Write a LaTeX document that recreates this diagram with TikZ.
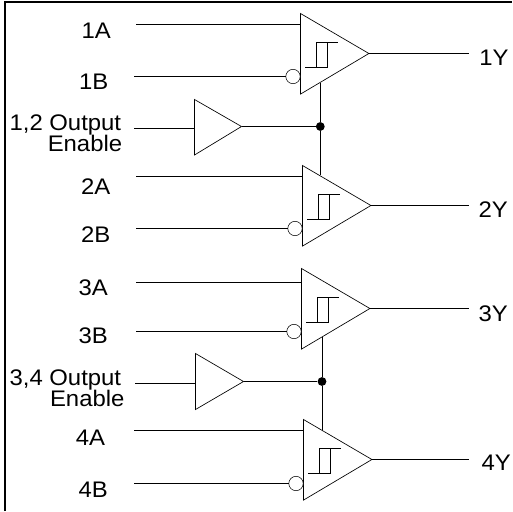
\documentclass[tikz,border=0pt]{standalone}
\usepackage{fontspec}
\setmainfont[FakeStretch=1.06]{Liberation Sans}
\tikzset{
  x=0.75pt,y=-0.75pt,
  wire/.style={line width=0.6pt,black},
  thin wire/.style={line width=0.5pt,black},
  gate/.style={line width=0.5pt,black,fill=white,line join=miter},
  bubble/.style={circle,draw=black,line width=0.4pt,fill=white,minimum size=10.8pt,inner sep=0pt},
  junction/.style={circle,fill=black,minimum size=6.6pt,inner sep=0pt},
  lbl/.style={font=\fontsize{16.9}{14}\selectfont,inner sep=0pt,anchor=base},
  lblr/.style={font=\fontsize{16.9}{14}\selectfont,inner sep=0pt,anchor=base east},
  frame/.style={line width=1.7pt,black}
}
\begin{document}
\begin{tikzpicture}
\useasboundingbox (0,0) rectangle (513,511);
\draw[frame] (4.9,511) -- (4.9,1.7) -- (512,1.7);

% Receiver: x left, y top, name, bubble y
\newcommand{\rcv}[4]{%
  \coordinate (#3tl) at (#1,#2);
  \coordinate (#3bl) at (#1,#2+80.6);
  \coordinate (#3tip) at (#1+68.4,#2+40);
  \draw[gate] (#3tl) -- (#3tip) -- (#3bl) -- cycle;
  \draw[thin wire] (#1+4.7,#2+54) -- (#1+26.4,#2+54) -- (#1+26.4,#2+29);
  \draw[thin wire] (#1+16,#2+54) -- (#1+16,#2+29) -- (#1+37.7,#2+29);
  \node[bubble] (#3bub) at (#1-7.5,#4) {};
}

% Group 1/2
\rcv{300.5}{13.5}{a}{76.5}
\rcv{302.5}{165.5}{b}{228.5}
\coordinate (ia) at (136,24.5);  \coordinate (ea) at (300.5,24.5);
\coordinate (ib) at (134,76.5);
\draw[wire] (ia) -- (ea);
\draw[wire] (ib) -- (abub);
\coordinate (ic) at (136,176.5); \coordinate (ec) at (302.5,176.5);
\coordinate (id) at (136,228.5);
\draw[wire] (ic) -- (ec);
\draw[wire] (id) -- (bbub);
\coordinate (oa) at (469,53.5); \draw[wire] (atip) -- (oa);
\coordinate (ob) at (469,205.5); \draw[wire] (btip) -- (ob);

\coordinate (en1) at (134,128.5);
\draw[gate] (194.5,99.5) coordinate (e1a) -- (241.5,126.5) coordinate (e1t) -- (194.5,155) coordinate (e1b) -- cycle;
\coordinate (e1in) at (194.5,128.5);
\draw[wire] (en1) -- (e1in);
\node[junction] (j1) at (320.3,126.5) {};
\draw[wire] (e1t) -- (j1);
\coordinate (va) at (320.3,83); \coordinate (vb) at (320.3,175);
\draw[wire] (va) -- (j1) -- (vb);

% Group 3/4
\rcv{301.5}{268.5}{c}{331.5}
\rcv{303.5}{419.5}{d}{483.5}
\coordinate (ie) at (136,282.5); \coordinate (ee) at (301.5,282.5);
\coordinate (if) at (136,331.5);
\draw[wire] (ie) -- (ee);
\draw[wire] (if) -- (cbub);
\coordinate (ig) at (134,430.5); \coordinate (eg) at (303.5,430.5);
\coordinate (ih) at (134,483.5);
\draw[wire] (ig) -- (eg);
\draw[wire] (ih) -- (dbub);
\coordinate (oc) at (469,308.5); \draw[wire] (ctip) -- (oc);
\coordinate (od) at (469,459.5); \draw[wire] (dtip) -- (od);

\coordinate (en2) at (135,383);
\draw[gate] (195.5,353.5) coordinate (e2a) -- (243.5,381.5) coordinate (e2t) -- (195.5,409.5) coordinate (e2b) -- cycle;
\coordinate (e2in) at (195.5,383);
\draw[wire] (en2) -- (e2in);
\node[junction] (j2) at (322,381.5) {};
\draw[wire] (e2t) -- (j2);
\coordinate (vc) at (322,337); \coordinate (vd) at (322,430);
\draw[wire] (vc) -- (j2) -- (vd);

% Labels
\node[lbl] (t1a) at (96.3,38.3) {1A};
\node[lbl] (t1b) at (93.7,89.3) {1B};
\node[lblr] (t1e) at (121.4,130) {1,2 Output};
\node[lblr] (t1f) at (122.4,151.7) {Enable};
\node[lbl] (t2a) at (95.8,194.3) {2A};
\node[lbl] (t2b) at (95.8,242.3) {2B};
\node[lbl] (t3a) at (93.3,295) {3A};
\node[lbl] (t3b) at (93.2,343) {3B};
\node[lblr] (t3e) at (121.4,385) {3,4 Output};
\node[lblr] (t3f) at (124.7,406.7) {Enable};
\node[lbl] (t4a) at (90.5,445) {4A};
\node[lbl] (t4b) at (93.2,497.3) {4B};
\node[lbl] (t1y) at (494,65.7) {1Y};
\node[lbl] (t2y) at (493.2,217.3) {2Y};
\node[lbl] (t3y) at (493.2,321.7) {3Y};
\node[lbl] (t4y) at (496.2,470.7) {4Y};
\end{tikzpicture}
\end{document}
